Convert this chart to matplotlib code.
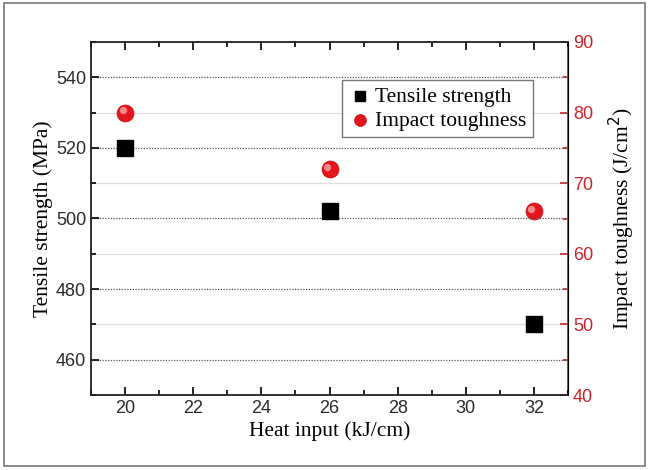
import matplotlib
matplotlib.use("Agg")
import matplotlib.pyplot as plt
import matplotlib.transforms as mtransforms
from matplotlib.patches import Rectangle
from matplotlib.ticker import MultipleLocator

heat_input = [20, 26, 32]
tensile = [520, 502, 470]
impact = [80, 72, 66]

red = "#c0272d"
ball = "#e3161e"
sans = "Liberation Sans"
serif = "Liberation Serif"

fig = plt.figure(figsize=(6.51, 4.70), dpi=100)
fig.patches.append(Rectangle((0.006, 0.008), 0.985, 0.985, transform=fig.transFigure,
                             fill=False, edgecolor="#777777", linewidth=1.2))
ax = fig.add_axes([91 / 651, 75 / 470, 477 / 651, 353 / 470])
ax2 = ax.twinx()

ax.set_xlim(19, 33)
ax.set_ylim(450, 550)
ax2.set_ylim(40, 90)

ax.xaxis.set_major_locator(MultipleLocator(2))
ax.xaxis.set_minor_locator(MultipleLocator(1))
ax.yaxis.set_major_locator(MultipleLocator(20))
ax.yaxis.set_minor_locator(MultipleLocator(10))
ax2.yaxis.set_major_locator(MultipleLocator(10))
ax2.yaxis.set_minor_locator(MultipleLocator(5))

# grid: dark dotted on left majors, light solid on right majors
ax.yaxis.grid(True, which="major", linestyle=(0, (1, 1.2)), color="#555555", linewidth=0.9)
ax2.yaxis.grid(True, which="major", linestyle="-", color="#dddddd", linewidth=0.9)
ax2.set_axisbelow(True)

ax.tick_params(axis="both", which="both", direction="in", top=True, right=False,
               labelsize=13, width=1.2)
ax.tick_params(which="major", length=6)
ax.tick_params(which="minor", length=3.5)
for lab in ax.get_xticklabels() + ax.get_yticklabels():
    lab.set_fontfamily(sans)
    lab.set_color("#2a2a2a")

ax2.tick_params(axis="y", which="both", direction="in", colors=red, labelsize=13, width=1.2)
ax2.tick_params(which="major", length=6)
ax2.tick_params(which="minor", length=3.5)
for lab in ax2.get_yticklabels():
    lab.set_fontfamily(sans)

for s in ["left", "top", "bottom"]:
    ax.spines[s].set_linewidth(1.3)
    ax.spines[s].set_color("#222222")
ax2.spines["right"].set_color(red)
ax2.spines["right"].set_linewidth(1.3)
for s in ["left", "top", "bottom"]:
    ax2.spines[s].set_visible(False)

ax.set_xlabel("Heat input (kJ/cm)", fontfamily=serif, fontsize=15.5, labelpad=3)
ax.set_ylabel("Tensile strength (MPa)", fontfamily=serif, fontsize=15.5, labelpad=2)
ax2.set_ylabel("Impact toughness (J/cm$^2$)", fontfamily=serif, fontsize=15.5, labelpad=10)
ax2.yaxis.label.set_color("black")

ax.set_zorder(ax2.get_zorder() + 1)
ax.patch.set_visible(False)

h1 = ax.scatter(heat_input, tensile, marker="s", s=120, color="black", zorder=5,
                label="Tensile strength")
h2 = ax2.scatter(heat_input, impact, marker="o", s=150, color=ball, edgecolors="#c01018",
                 linewidths=0.5, zorder=5, label="Impact toughness")
# highlight on the spheres
hl = mtransforms.offset_copy(ax2.transData, fig=fig, x=-1.8, y=1.8, units="points")
ax2.scatter(heat_input, impact, marker="o", s=28, color="#f58a8a", transform=hl, zorder=6,
            linewidths=0)

# legend drawn on the top axes
h2_proxy = ax.scatter([], [], marker="o", s=150, color=ball, edgecolors="#c01018", linewidths=0.5)
leg = ax.legend([h1, h2_proxy], ["Tensile strength", "Impact toughness"],
                loc="upper left", bbox_to_anchor=(0.526, 0.892),
                prop={"family": serif, "size": 15.5}, frameon=True, fancybox=False,
                edgecolor="#555555", handletextpad=0.15, borderpad=0.3, labelspacing=0.2,
                markerscale=0.7, handlelength=1.1, borderaxespad=0)
leg.get_frame().set_linewidth(1.0)

fig.savefig("out.png", dpi=100)
